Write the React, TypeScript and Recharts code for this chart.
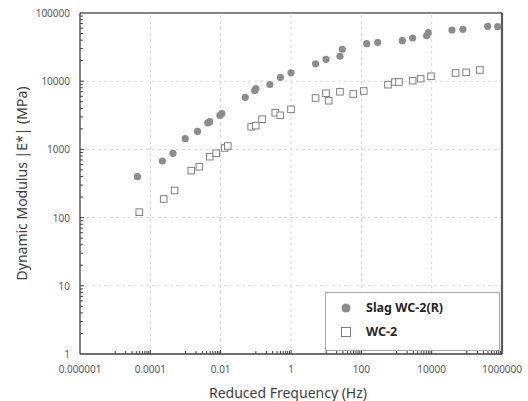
import {
  ReferenceLine,
  Scatter,
  ScatterChart,
  XAxis,
  YAxis,
  Legend,
} from "recharts";

// reduced frequency (Hz) / |E*| (MPa)
const slagFreq = [
  4.3e-5, 2.2e-4, 4.4e-4, 9.8e-4, 2.2e-3, 4.3e-3, 4.9e-3, 9.5e-3, 1.08e-2, 0.05, 0.093,
  0.1, 0.25, 0.5, 1.0, 5.0, 9.9, 24.7, 28.7, 142, 292, 1460, 2880, 7210, 8000, 37800,
  77600, 391000, 754000,
];
const slagModulus = [
  398, 676, 877, 1435, 1841, 2450, 2550, 3150, 3350, 5800, 7300, 7800, 8950, 11400, 13300,
  18000, 20900, 23200, 29400, 35500, 37200, 39300, 43000, 46500, 51400, 56300, 57700,
  63800, 63000,
];
const wcFreq = [
  4.85e-5, 2.4e-4, 4.9e-4, 1.46e-3, 2.47e-3, 4.9e-3, 7.5e-3, 0.013, 0.0159, 0.074, 0.099,
  0.151, 0.357, 0.495, 1.0, 5.0, 9.9, 11.8, 24.7, 59, 117, 572, 904, 1175, 2880, 4860,
  9550, 47900, 95500, 234000,
];
const wcModulus = [
  120, 187, 250, 488, 557, 782, 877, 1050, 1122, 2150, 2230, 2770, 3450, 3160, 3870, 5670,
  6650, 5180, 7010, 6490, 7180, 8890, 9730, 9730, 10170, 10900, 11800, 13200, 13500, 14600,
];

const xMajor = [1e-6, 1e-4, 1e-2, 1, 100, 1e4, 1e6];
const xLabels = ["0.000001", "0.0001", "0.01", "1", "100", "10000", "1000000"];
const yMajor = [1, 10, 100, 1000, 10000, 100000];
const yLabels = ["1", "10", "100", "1000", "10000", "100000"];

// excel-style minor ticks: multiples of the next decade up (x) / 2..9 per decade (y)
const xMinor = xMajor.slice(0, -1).flatMap((m) => [1, 2, 3, 4, 5, 6, 7, 8, 9].map((k) => m * 10 * k));
const yMinor = yMajor.slice(0, -1).flatMap((m) => [2, 3, 4, 5, 6, 7, 8, 9].map((k) => m * k));

const slagData = slagFreq.map((f, i) => ({ f, e: slagModulus[i] }));
const wcData = wcFreq.map((f, i) => ({ f, e: wcModulus[i] }));

const FONT = "'Noto Sans', 'Open Sans', sans-serif";
const AXIS = "#595959";
const GRID = "#d9d9d9";
const SLAG = "#8c8c8c";

const majorIdx = (list: number[], v: number) =>
  list.findIndex((m) => Math.abs(m - v) / m < 1e-6);

const XTick = (props: any) => {
  const { x, y, payload } = props;
  const i = majorIdx(xMajor, payload.value);
  const inner = payload.value > 1e-6 * 1.0001 && payload.value < 1e6 * 0.9999;
  return (
    <g>
      {inner && <line x1={x} x2={x} y1={y} y2={y - (i >= 0 ? 4 : 3)} stroke="#404040" />}
      {i >= 0 && (
        <text x={x} y={y + 15} textAnchor="middle" dominantBaseline="central" fontSize={10} fill={AXIS} fontFamily={FONT}>
          {xLabels[i]}
        </text>
      )}
    </g>
  );
};

const YTick = (props: any) => {
  const { x, y, payload } = props;
  const i = majorIdx(yMajor, payload.value);
  const inner = payload.value > 1.0001 && payload.value < 1e5 * 0.9999;
  return (
    <g>
      {inner && <line x1={x} x2={x + (i >= 0 ? 4 : 3)} y1={y} y2={y} stroke="#404040" />}
      {i >= 0 && (
        <text x={x - 10} y={y} textAnchor="end" dominantBaseline="central" fontSize={10} fill={AXIS} fontFamily={FONT}>
          {yLabels[i]}
        </text>
      )}
    </g>
  );
};

const Dot = (p: any) => <circle cx={p.cx} cy={p.cy} r={3.6} fill={SLAG} />;
const Box = (p: any) => (
  <rect x={p.cx - 3.3} y={p.cy - 3.3} width={6.6} height={6.6} fill="#fff" stroke="#7f7f7f" strokeWidth={1} />
);

const LegendBox = () => (
  <div
    style={{
      width: 175,
      height: 59,
      boxSizing: "border-box",
      background: "#fff",
      border: "1px solid #a6a6a6",
      fontFamily: FONT,
      fontWeight: 700,
      fontSize: 12.5,
      color: "#262626",
    }}
  >
    {[
      { name: "Slag WC-2(R)", mark: <circle cx={7} cy={7} r={4.5} fill={SLAG} /> },
      { name: "WC-2", mark: <rect x={2.5} y={2.5} width={9} height={9} fill="#fff" stroke="#7f7f7f" /> },
    ].map((it, k) => (
      <div key={it.name} style={{ position: "absolute", left: 14, top: k === 0 ? 9 : 33, display: "flex", alignItems: "center" }}>
        <svg width={14} height={14}>{it.mark}</svg>
        <span style={{ marginLeft: 13, lineHeight: "14px" }}>{it.name}</span>
      </div>
    ))}
  </div>
);

export default function App() {
  return (
    <div style={{ position: "absolute", left: 0, top: 0, width: 528, height: 401, background: "#fff" }}>
      <ScatterChart width={528} height={401} margin={{ top: 13, right: 26, left: 0, bottom: 0 }}>
        <XAxis
          dataKey="f"
          type="number"
          scale="log"
          domain={[1e-6, 1e6]}
          allowDataOverflow
          ticks={[...xMajor, ...xMinor].sort((a, b) => a - b)}
          interval={0}
          tick={<XTick />}
          tickSize={0}
          tickMargin={0}
          tickLine={false}
          height={47}
          axisLine={{ stroke: "#404040", strokeWidth: 1.3 }}
          label={{
            content: ({ viewBox }: any) => (
              <text
                x={viewBox.x + viewBox.width / 2 - 3}
                y={viewBox.y + 38}
                textAnchor="middle"
                dominantBaseline="central"
                fontSize={14}
                fill="#404040"
                fontFamily={FONT}
              >
                Reduced Frequency (Hz)
              </text>
            ),
          }}
        />
        <YAxis
          dataKey="e"
          type="number"
          scale="log"
          domain={[1, 1e5]}
          allowDataOverflow
          ticks={[...yMajor, ...yMinor].sort((a, b) => a - b)}
          interval={0}
          tick={<YTick />}
          tickSize={0}
          tickMargin={0}
          tickLine={false}
          width={80}
          axisLine={{ stroke: "#404040", strokeWidth: 1.3 }}
          label={{
            content: ({ viewBox }: any) => {
              const cx = viewBox.x + 21;
              const cy = viewBox.y + viewBox.height / 2;
              return (
                <text
                  x={cx}
                  y={cy}
                  transform={`rotate(-90 ${cx} ${cy})`}
                  textAnchor="middle"
                  dominantBaseline="central"
                  fontSize={14}
                  fill="#404040"
                  fontFamily={FONT}
                >
                  Dynamic Modulus |E*| (MPa)
                </text>
              );
            },
          }}
        />
        {xMajor.slice(1, -1).map((v) => (
          <ReferenceLine key={`gx${v}`} x={v} stroke={GRID} strokeDasharray="3 3" />
        ))}
        {yMajor.slice(1, -1).map((v) => (
          <ReferenceLine key={`gy${v}`} y={v} stroke={GRID} strokeDasharray="3 3" />
        ))}
        <ReferenceLine y={1e5} stroke="#595959" strokeWidth={1.3} />
        <ReferenceLine x={1e6} stroke="#595959" strokeWidth={2.2} />
        <Scatter name="Slag WC-2(R)" data={slagData} shape={<Dot />} isAnimationActive={false} />
        <Scatter name="WC-2" data={wcData} shape={<Box />} isAnimationActive={false} />
        <Legend
          layout="vertical"
          align="center"
          verticalAlign="middle"
          content={() => <LegendBox />}
          wrapperStyle={{ position: "absolute", left: 325, top: 292, width: 175, height: 59 }}
        />
      </ScatterChart>
    </div>
  );
}
